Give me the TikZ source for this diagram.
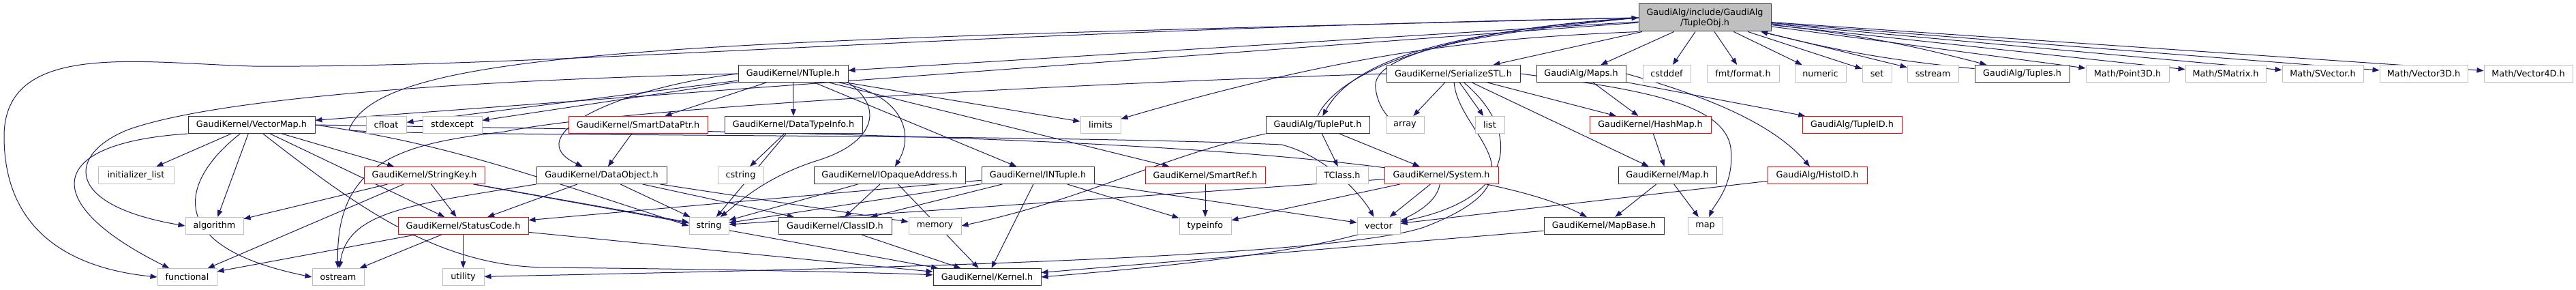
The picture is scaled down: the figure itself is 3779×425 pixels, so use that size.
\documentclass[tikz,border=0pt]{standalone}
\usepackage{fontspec}
\setmainfont{DejaVu Sans}
\usetikzlibrary{arrows.meta,backgrounds}
\definecolor{edgeblue}{HTML}{191970}
\definecolor{sysgray}{HTML}{BFBFBF}
\tikzset{
  file/.style={draw=black!80, fill=white, line width=1pt, minimum height=25pt, inner sep=0pt, font=\fontsize{12.8}{15}\selectfont},
  sysfile/.style={file, draw=sysgray},
  cutfile/.style={file, draw=red},
  inc/.style={draw=edgeblue, line width=1pt, -{Triangle[length=10pt,width=7.5pt]}},
}
\begin{document}
\begin{tikzpicture}[x=1pt,y=-1pt]
\useasboundingbox (0,0) rectangle (3779,425);
\node [file, fill=sysgray, minimum width=194pt, minimum height=40pt, align=center] (root) at (2501,26) {GaudiAlg/include/GaudiAlg\\/TupleObj.h};
\node [file, minimum width=161pt] (NTuple) at (1163.5,108) {GaudiKernel/NTuple.h};
\node [file, minimum width=196pt] (SerializeSTL) at (2132,108) {GaudiKernel/SerializeSTL.h};
\node [file, minimum width=131pt] (Maps) at (2319.5,108) {GaudiAlg/Maps.h};
\node [sysfile, minimum width=70pt] (cstddef) at (2445,108) {cstddef};
\node [sysfile, minimum width=106pt] (fmt) at (2557,108) {fmt/format.h};
\node [sysfile, minimum width=75pt] (numeric) at (2670.5,108) {numeric};
\node [sysfile, minimum width=43pt] (set) at (2753.5,108) {set};
\node [sysfile, minimum width=75pt] (sstream) at (2835.5,108) {sstream};
\node [file, minimum width=139pt] (Tuples) at (2966.5,108) {GaudiAlg/Tuples.h};
\node [sysfile, minimum width=122pt] (Point3D) at (3121,108) {Math/Point3D.h};
\node [sysfile, minimum width=118pt] (SMatrix) at (3265,108) {Math/SMatrix.h};
\node [sysfile, minimum width=119pt] (SVector) at (3407.5,108) {Math/SVector.h};
\node [sysfile, minimum width=129pt] (Vector3D) at (3555.5,108) {Math/Vector3D.h};
\node [sysfile, minimum width=130pt] (Vector4D) at (3709,108) {Math/Vector4D.h};
\node [file, minimum width=186pt] (VectorMap) at (369,183) {GaudiKernel/VectorMap.h};
\node [sysfile, minimum width=59pt] (cfloat) at (566.5,183) {cfloat};
\node [sysfile, minimum width=87pt] (stdexcept) at (663.5,183) {stdexcept};
\node [cutfile, minimum width=204pt] (SmartDataPtr) at (936,183) {GaudiKernel/SmartDataPtr.h};
\node [file, minimum width=202pt] (DataTypeInfo) at (1164,183) {GaudiKernel/DataTypeInfo.h};
\node [sysfile, minimum width=59pt] (limits) at (1614.5,183) {limits};
\node [file, minimum width=152pt] (TuplePut) at (1933,183) {GaudiAlg/TuplePut.h};
\node [sysfile, minimum width=56pt] (array) at (2061,183) {array};
\node [sysfile, minimum width=43pt] (list) at (2185.5,183) {list};
\node [cutfile, minimum width=178pt] (HashMap) at (2421,183) {GaudiKernel/HashMap.h};
\node [cutfile, minimum width=146pt] (TupleID) at (2717,183) {GaudiAlg/TupleID.h};
\node [sysfile, minimum width=111pt] (initlist) at (199.5,257) {initializer\_list};
\node [cutfile, minimum width=177pt] (StringKey) at (622.5,257) {GaudiKernel/StringKey.h};
\node [file, minimum width=191pt] (DataObject) at (882.5,257) {GaudiKernel/DataObject.h};
\node [sysfile, minimum width=67pt] (cstring) at (1086.5,257) {cstring};
\node [file, minimum width=222pt] (IOpaqueAddress) at (1305,257) {GaudiKernel/IOpaqueAddress.h};
\node [file, minimum width=165pt] (INTuple) at (1522.5,257) {GaudiKernel/INTuple.h};
\node [cutfile, minimum width=176pt] (SmartRef) at (1768,257) {GaudiKernel/SmartRef.h};
\node [sysfile, minimum width=76pt] (TClass) at (1969,257) {TClass.h};
\node [cutfile, minimum width=167pt] (System) at (2114.5,257) {GaudiKernel/System.h};
\node [file, minimum width=144pt] (Map) at (2446,257) {GaudiKernel/Map.h};
\node [cutfile, minimum width=146pt] (HistoID) at (2666,257) {GaudiAlg/HistoID.h};
\node [sysfile, minimum width=85pt] (algorithm) at (314.5,331) {algorithm};
\node [cutfile, minimum width=191pt] (StatusCode) at (679.5,331) {GaudiKernel/StatusCode.h};
\node [sysfile, minimum width=58pt] (string) at (1040,331) {string};
\node [file, minimum width=166pt] (ClassID) at (1225,331) {GaudiKernel/ClassID.h};
\node [sysfile, minimum width=77pt] (memory) at (1371.5,331) {memory};
\node [sysfile, minimum width=76pt] (typeinfo) at (1768,331) {typeinfo};
\node [sysfile, minimum width=63pt] (vector) at (2022.5,331) {vector};
\node [file, minimum width=176pt] (MapBase) at (2353,331) {GaudiKernel/MapBase.h};
\node [sysfile, minimum width=51pt] (map) at (2501.5,331) {map};
\node [sysfile, minimum width=87pt] (functional) at (274.5,406) {functional};
\node [sysfile, minimum width=76pt] (ostream) at (496,406) {ostream};
\node [sysfile, minimum width=61pt] (utility) at (679.5,406) {utility};
\node [file, minimum width=158pt] (Kernel) at (1448,406) {GaudiKernel/Kernel.h};
\begin{scope}[on background layer]
\draw [inc] (root) -- (NTuple);
\draw [inc] (root) -- (VectorMap);
\draw [inc] (root.west) .. controls (1400,45) and (800,100) .. (370,97) .. controls (200,92) and (6,60) .. (6,200) .. controls (6,350) and (120,395) .. (functional.west);
\draw [inc] (root.west) .. controls (1000,60) and (560,70) .. (512,190) .. controls (515,200) and (1500,195) .. (1880,212) .. controls (1950,230) and (2000,290) .. (vector);
\draw [inc] (root) -- (SerializeSTL);
\draw [inc] (root) -- (Maps);
\draw [inc] (root) -- (cstddef);
\draw [inc] (root) -- (fmt);
\draw [inc] (root) -- (numeric);
\draw [inc] (root) -- (set);
\draw [inc] (root) -- (sstream);
\draw [inc] (root) to[bend left=4] (Tuples);
\draw [inc] (Tuples) to[bend left=4] (root);
\draw [inc] (root) -- (Point3D);
\draw [inc] (root) -- (SMatrix);
\draw [inc] (root) -- (SVector);
\draw [inc] (root) -- (Vector3D);
\draw [inc] (root) -- (Vector4D);
\draw [inc] (root.west) .. controls (2150,45) and (1990,80) .. (TuplePut);
\draw [inc] (TuplePut.north) .. controls (1960,110) and (2100,45) .. (root.west);
\draw [inc] (root.west) .. controls (2150,50) and (2010,80) .. (2018,130) .. controls (2022,160) and (2040,175) .. (array);
\draw [inc] (root.south west) .. controls (2200,55) and (2000,70) .. (limits);
\draw [inc] (TuplePut) -- (TClass);
\draw [inc] (TuplePut) -- (System);
\draw [inc] (TuplePut.south west) .. controls (1700,230) and (1600,290) .. (memory.east);
\draw [inc] (NTuple.west) .. controls (600,120) and (300,150) .. (188,190) .. controls (100,225) and (90,300) .. (algorithm.west);
\draw [inc] (NTuple) -- (cfloat);
\draw [inc] (NTuple) -- (stdexcept);
\draw [inc] (NTuple) -- (SmartDataPtr);
\draw [inc] (NTuple) -- (DataTypeInfo);
\draw [inc] (NTuple.west) .. controls (900,130) and (760,200) .. (DataObject);
\draw [inc] (NTuple) .. controls (1330,140) and (1340,200) .. (IOpaqueAddress);
\draw [inc] (NTuple) -- (INTuple);
\draw [inc] (NTuple) -- (limits);
\draw [inc] (NTuple.south east) .. controls (1300,160) and (1280,210) .. (1200,235) .. controls (1120,260) and (1080,300) .. (string);
\draw [inc] (NTuple) -- (SmartRef);
\draw [inc] (VectorMap.south west) .. controls (60,210) and (60,300) .. (functional);
\draw [inc] (VectorMap) -- (initlist);
\draw [inc] (VectorMap) .. controls (270,260) and (230,360) .. (ostream.west);
\draw [inc] (VectorMap) -- (algorithm);
\draw [inc] (VectorMap) -- (StringKey);
\draw [inc] (VectorMap) -- (StatusCode);
\draw [inc] (VectorMap) .. controls (520,300) and (640,390) .. (800,392) .. controls (1100,395) and (1300,400) .. (Kernel);
\draw [inc] (VectorMap.east) .. controls (1200,195) and (2100,200) .. (MapBase);
\draw [inc] (VectorMap.east) .. controls (650,210) and (760,250) .. (string.west);
\draw [inc] (SerializeSTL) -- (array);
\draw [inc] (SerializeSTL) -- (list);
\draw [inc] (SerializeSTL) -- (HashMap);
\draw [inc] (SerializeSTL) -- (Map);
\draw [inc] (SerializeSTL) .. controls (2230,190) and (2230,290) .. (vector);
\draw [inc] (SerializeSTL.east) .. controls (2400,130) and (2530,150) .. (2539,217) .. controls (2545,270) and (2515,300) .. (map);
\draw [inc] (SerializeSTL.west) .. controls (1500,125) and (900,160) .. (740,193) .. controls (600,210) and (492,230) .. (ostream);
\draw [inc] (SerializeSTL) .. controls (2140,200) and (2280,260) .. (2089,333) .. controls (1950,380) and (1200,395) .. (utility);
\draw [inc] (Maps) -- (HashMap);
\draw [inc] (Maps) -- (TupleID);
\draw [inc] (Maps.east) .. controls (2500,140) and (2600,180) .. (HistoID);
\draw [inc] (HashMap) -- (Map);
\draw [inc] (Map) -- (MapBase);
\draw [inc] (Map) -- (map);
\draw [inc] (MapBase) -- (Kernel);
\draw [inc] (HistoID) -- (vector);
\draw [inc] (SmartDataPtr) -- (DataObject);
\draw [inc] (DataTypeInfo) -- (string);
\draw [inc] (DataTypeInfo) -- (cstring);
\draw [inc] (DataObject) -- (StatusCode);
\draw [inc] (DataObject) -- (string);
\draw [inc] (DataObject) -- (ClassID);
\draw [inc] (DataObject) -- (memory);
\draw [inc] (DataObject.south west) .. controls (600,300) and (510,310) .. (ostream);
\draw [inc] (StringKey) -- (algorithm);
\draw [inc] (StringKey) -- (functional);
\draw [inc] (StringKey) -- (StatusCode);
\draw [inc] (StringKey) -- (string);
\draw [inc] (StringKey) -- (Kernel);
\draw [inc] (StatusCode) -- (functional);
\draw [inc] (StatusCode) -- (ostream);
\draw [inc] (StatusCode) -- (utility);
\draw [inc] (StatusCode) -- (Kernel);
\draw [inc] (IOpaqueAddress) -- (ClassID);
\draw [inc] (IOpaqueAddress) -- (Kernel);
\draw [inc] (IOpaqueAddress) -- (string);
\draw [inc] (INTuple) -- (Kernel);
\draw [inc] (INTuple) -- (typeinfo);
\draw [inc] (INTuple) -- (vector);
\draw [inc] (INTuple) -- (string);
\draw [inc] (INTuple) -- (ClassID);
\draw [inc] (INTuple) -- (StatusCode);
\draw [inc] (SmartRef) -- (typeinfo);
\draw [inc] (ClassID) -- (Kernel);
\draw [inc] (System) -- (vector);
\draw [inc] (System) .. controls (2100,340) and (1900,375) .. (Kernel.east);
\draw [inc] (System) -- (string);
\draw [inc] (System) -- (typeinfo);
\end{scope}
\end{tikzpicture}
\end{document}
